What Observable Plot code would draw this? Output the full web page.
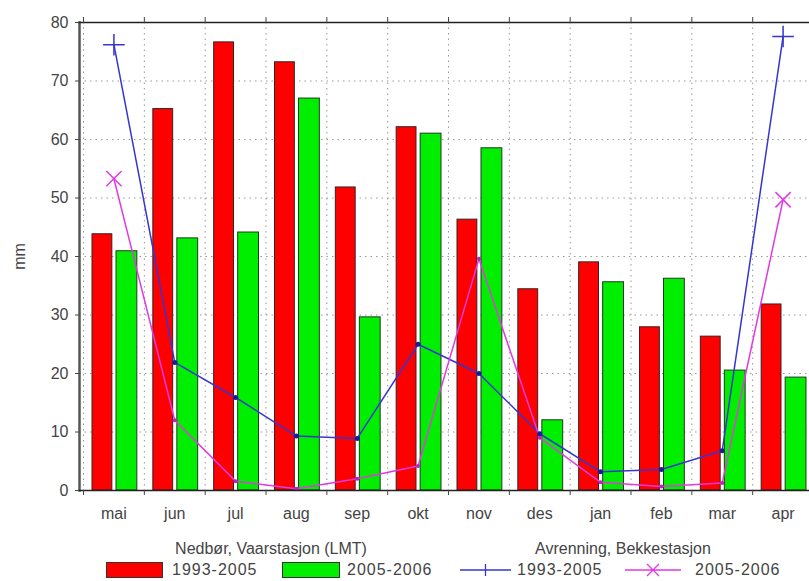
<!DOCTYPE html>
<html><head><meta charset="utf-8">
<script src="https://cdn.jsdelivr.net/npm/d3@7"></script>
<script src="https://cdn.jsdelivr.net/npm/@observablehq/plot@0.6"></script>
<style>
body{margin:0;background:#fff;font-family:"Liberation Sans",Arial,sans-serif;}
#wrap{position:relative;width:809px;height:581px;overflow:hidden;background:#fff;}
.lg{position:absolute;font-size:16px;color:#444;white-space:nowrap;line-height:16px;}
.num{letter-spacing:1px;}
.sw{position:absolute;box-sizing:border-box;border:1px solid #333;}
svg.mk{position:absolute;overflow:visible;}
</style></head><body><div id="wrap"></div>
<script>
const months = ["mai","jun","jul","aug","sep","okt","nov","des","jan","feb","mar","apr"];
const precip9305 = [43.8, 65.2, 76.6, 73.2, 51.8, 62.1, 46.3, 34.4, 39.0, 27.9, 26.3, 31.8];
const precip0506 = [40.9, 43.1, 44.1, 67.0, 29.6, 61.0, 58.5, 12.0, 35.6, 36.2, 20.5, 19.3];
const runoff9305 = [76.2, 21.9, 15.9, 9.3, 8.9, 25.0, 20.0, 9.7, 3.2, 3.6, 6.8, 77.6];
const runoff0506 = [53.3, 12.0, 1.6, 0.3, 2.0, 4.2, 39.6, 9.0, 1.4, 0.7, 1.3, 49.7];
const yTicks = [0, 10, 20, 30, 40, 50, 60, 70, 80];
const seriesLabels = ["1993-2005", "2005-2006"];
const legendTitles = ["Nedbør, Vaarstasjon (LMT)", "Avrenning, Bekkestasjon"];

const C = {red:"#ff0000", green:"#00ee00", blue:"#3636cf", mag:"#e23ae2"};
const precA = months.map((m,i)=>({month:m, value:precip9305[i]}));
const precB = months.map((m,i)=>({month:m, value:precip0506[i]}));
const runA = months.map((m,i)=>({month:m, value:runoff9305[i], end:i===0||i===months.length-1}));
const runB = months.map((m,i)=>({month:m, value:runoff0506[i], end:i===0||i===months.length-1}));
const half = 30.4;
const blank = () => "";

const chart = Plot.plot({
  width: 809, height: 530,
  marginTop: 22, marginBottom: 40, marginLeft: 79, marginRight: 0,
  style: {fontFamily: '"Liberation Sans", Arial, sans-serif', fontSize: "16px", color: "#444", background: "white"},
  x: {domain: months, range: [83, 813], padding: 0, round: false, label: null},
  y: {domain: [0, 80], label: "mm"},
  marks: [
    Plot.gridY(yTicks, {stroke: "#777", strokeOpacity: 0.75, strokeDasharray: "1.5,4"}),
    Plot.gridX(months, {dx: -half, stroke: "#777", strokeOpacity: 0.75, strokeDasharray: "1.5,4"}),
    Plot.barY(precA, {x: "month", y: "value", fill: C.red, stroke: "#3a2020", strokeWidth: 1, insetLeft: 9, insetRight: 32}),
    Plot.barY(precB, {x: "month", y: "value", fill: C.green, stroke: "#203a20", strokeWidth: 1, insetLeft: 33, insetRight: 7}),
    Plot.line(runA, {x: "month", y: "value", stroke: C.blue, strokeWidth: 1.5}),
    Plot.line(runB, {x: "month", y: "value", stroke: C.mag, strokeWidth: 1.5}),
    Plot.dot(runA.filter(d => !d.end), {x: "month", y: "value", r: 2.5, fill: "#1c1c9a"}),
    Plot.dot(runB.filter(d => !d.end), {x: "month", y: "value", r: 2, fill: "#c020c0"}),
    Plot.dot(runA.filter(d => d.end), {x: "month", y: "value", symbol: "plus", r: 7, stroke: C.blue, strokeWidth: 1.5}),
    Plot.dot(runB.filter(d => d.end), {x: "month", y: "value", symbol: "times", r: 7, stroke: C.mag, strokeWidth: 1.5}),
    Plot.frame({anchor: "left", stroke: "#555", strokeWidth: 2.5}),
    Plot.frame({anchor: "top", stroke: "#222", strokeWidth: 1.5}),
    Plot.frame({anchor: "bottom", stroke: "#222", strokeWidth: 1.5}),
    Plot.axisY(yTicks, {tickSize: 4, tickPadding: 7, label: "mm", labelAnchor: "center", labelArrow: "none", labelOffset: 66}),
    Plot.axisX(months, {tickSize: 0, tickPadding: 17, label: null}),
    Plot.axisX(months, {dx: -half, tickSize: 5, tickFormat: blank, label: null}),
    Plot.axisX(months, {anchor: "top", dx: -half, tickSize: 6, tickFormat: blank, label: null})
  ]
});
const wrap = document.getElementById("wrap");
wrap.appendChild(chart);

function addText(txt, left, top, center, cls) {
  const d = document.createElement("div");
  d.className = "lg" + (cls ? " " + cls : ""); d.textContent = txt;
  d.style.left = left + "px"; d.style.top = top + "px";
  if (center) d.style.transform = "translateX(-50%)";
  wrap.appendChild(d);
}
function addSwatch(color, left, top, w, h) {
  const d = document.createElement("div");
  d.className = "sw"; d.style.background = color;
  d.style.left = left + "px"; d.style.top = top + "px";
  d.style.width = w + "px"; d.style.height = h + "px";
  wrap.appendChild(d);
}
function addLineKey(color, left, top, w, sym) {
  const ns = "http://www.w3.org/2000/svg";
  const s = document.createElementNS(ns, "svg");
  s.setAttribute("class", "mk"); s.setAttribute("width", w); s.setAttribute("height", 16);
  s.style.left = left + "px"; s.style.top = top + "px";
  const c = w / 2;
  const p = sym === "plus"
    ? `M0,8H${w}M${c},2V14`
    : `M0,8H${w}M${c-6},2L${c+6},14M${c-6},14L${c+6},2`;
  const path = document.createElementNS(ns, "path");
  path.setAttribute("d", p); path.setAttribute("stroke", color);
  path.setAttribute("stroke-width", 1.3); path.setAttribute("fill", "none");
  s.appendChild(path);
  wrap.appendChild(s);
}
addText(legendTitles[0], 271, 541, true);
addText(legendTitles[1], 623, 541, true);
addSwatch(C.red, 106, 562, 57, 16);
addText(seriesLabels[0], 172, 562, false, "num");
addSwatch(C.green, 282, 562, 58, 16);
addText(seriesLabels[1], 347, 562, false, "num");
addLineKey(C.blue, 460, 562, 51, "plus");
addText(seriesLabels[0], 517, 562, false, "num");
addLineKey(C.mag, 625, 562, 56, "times");
addText(seriesLabels[1], 695, 562, false, "num");
</script></body></html>
